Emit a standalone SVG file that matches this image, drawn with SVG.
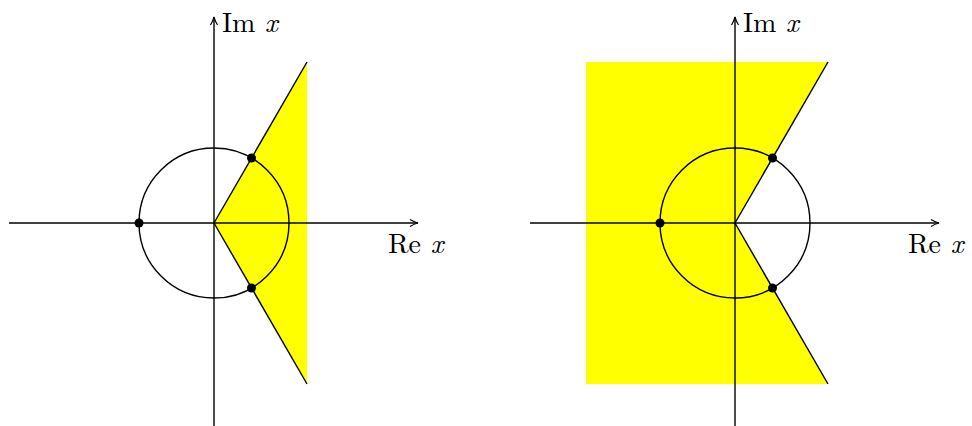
<svg xmlns="http://www.w3.org/2000/svg" width="972" height="426" viewBox="0 0 972 426">
<defs>
<marker id="arr" viewBox="0 0 10 10" refX="9" refY="5" markerWidth="10" markerHeight="10" markerUnits="userSpaceOnUse" orient="auto">
<path d="M1,1.5 Q5,4 9,5 Q5,6 1,8.5" fill="none" stroke="#000" stroke-width="1.2"/>
</marker>
</defs>
<style>
.reg{fill:#ffff00;stroke:none}
.ln{fill:none;stroke:#000;stroke-width:1.4}
.ax{fill:none;stroke:#000;stroke-width:1.4;marker-end:url(#arr)}
.pt{fill:#000}
.lbl{font-family:"Latin Modern Roman","Liberation Serif","DejaVu Serif",serif;font-size:28px;fill:#000}
.it{font-style:italic}
</style>
<g id="left">
<polygon class="reg" points="214,223 307,62 307,384"/>
<circle class="ln" cx="214" cy="223" r="75"/>
<g id="connectors-left">
<line class="ln" x1="214" y1="223" x2="307" y2="62"/>
<line class="ln" x1="214" y1="223" x2="307" y2="384"/>
<line class="ax" x1="9" y1="223" x2="418" y2="223"/>
<line class="ax" x1="214" y1="426" x2="214" y2="17"/>
</g>
<circle id="lp1" class="pt" cx="251.5" cy="158" r="4.5"/>
<circle id="lp2" class="pt" cx="251.5" cy="288" r="4.5"/>
<circle id="lp3" class="pt" cx="139" cy="223" r="4.5"/>
<text id="lim" class="lbl" x="222" y="32">Im <tspan class="it">x</tspan></text>
<text id="lre" class="lbl" x="388" y="253">Re <tspan class="it">x</tspan></text>
</g>
<g id="right">
<polygon class="reg" points="586,62 828,62 735,223 828,384 586,384"/>
<circle class="ln" cx="735" cy="223" r="75"/>
<g id="connectors-right">
<line class="ln" x1="735" y1="223" x2="828" y2="62"/>
<line class="ln" x1="735" y1="223" x2="828" y2="384"/>
<line class="ax" x1="530" y1="223" x2="939" y2="223"/>
<line class="ax" x1="735" y1="426" x2="735" y2="17"/>
</g>
<circle id="rp1" class="pt" cx="772.5" cy="158" r="4.5"/>
<circle id="rp2" class="pt" cx="772.5" cy="288" r="4.5"/>
<circle id="rp3" class="pt" cx="660" cy="223" r="4.5"/>
<text id="rim" class="lbl" x="743" y="32">Im <tspan class="it">x</tspan></text>
<text id="rre" class="lbl" x="908" y="253">Re <tspan class="it">x</tspan></text>
</g>
</svg>
